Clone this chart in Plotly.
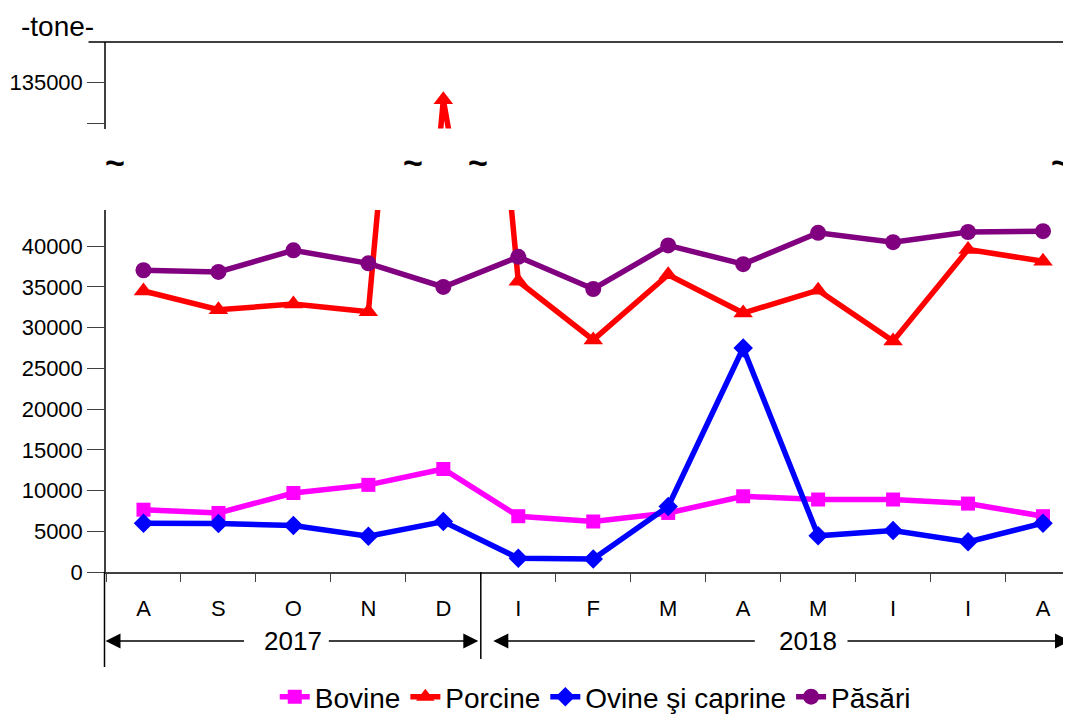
import plotly.graph_objects as go

months = ["A", "S", "O", "N", "D", "I", "F", "M", "A", "M", "I", "I", "A"]
bovine = [7650, 7250, 9700, 10700, 12650, 6850, 6200, 7250, 9300, 8900, 8900, 8400, 6850]
porcine = [34500, 32200, 32900, 31950, 132900, 35700, 28500, 36500, 31800, 34600, 28350, 39600, 38150]
ovine = [6000, 5950, 5700, 4400, 6200, 1700, 1600, 8050, 27500, 4450, 5100, 3700, 6000]
pasari = [37050, 36850, 39500, 37900, 35000, 38700, 34750, 40100, 37800, 41650, 40500, 41750, 41850]
series_names = ["Bovine", "Porcine", "Ovine şi caprine", "Păsări"]
years = ["2017", "2018"]
lower_ticks = list(range(0, 40001, 5000))
upper_ticks = [130000, 135000]
upper_ticktext = ["", "135000"]

x = list(range(len(months)))
FONT = "Liberation Sans, Arial, sans-serif"

# page body has an 8px margin; the figure is sized so it ends at the window edge
OFF = 8
W, H = 1071 - OFF, 715 - OFF
ML, MR, MT, MB = 105.5 - OFF, 0, 42 - OFF, 143
PW = W - ML - MR
PH = H - MT - MB
XR = [-0.5, -0.5 + PW / 75.0]

def px2paper_x(rx):
    return (rx - OFF - ML) / PW

def px2paper_y(ry):
    return (H - MB - (ry - OFF)) / PH

styles = [
    dict(color="#FF00FF", symbol="square", size=14),
    dict(color="#FF0000", symbol="triangle-up", size=17),
    dict(color="#0000FF", symbol="diamond", size=15),
    dict(color="#800080", symbol="circle", size=16),
]
data = [bovine, porcine, ovine, pasari]

fig = go.Figure()
for name, vals, st in zip(series_names, data, styles):
    for yax, show in (("y", True), ("y2", False)):
        fig.add_trace(go.Scatter(
            x=x, y=vals, name=name, mode="lines+markers",
            line=dict(color=st["color"], width=5.5),
            marker=dict(color=st["color"], symbol=st["symbol"], size=st["size"]),
            xaxis="x" if yax == "y" else "x2", yaxis=yax,
            showlegend=show, cliponaxis=True,
        ))

axis_common = dict(showgrid=False, zeroline=False, showline=True,
                   linecolor="#404040", linewidth=1.5,
                   ticks="outside", ticklen=17, tickwidth=1.2, tickcolor="#404040",
                   tickfont=dict(family=FONT, size=22, color="black"))

lower_top = 210
upper_bottom = 128.5

fig.update_layout(
    width=W, height=H,
    margin=dict(l=ML, r=MR, t=MT, b=MB, autoexpand=False),
    paper_bgcolor="white", plot_bgcolor="white",
    font=dict(family=FONT, size=22, color="black"),
    xaxis=dict(range=XR, domain=[0, 1], anchor="y",
               tickmode="array", tickvals=x, ticktext=months,
               ticks="", showgrid=False, zeroline=False,
               showline=True, linecolor="#404040", linewidth=2,
               ticklabelstandoff=16,
               tickfont=dict(family=FONT, size=22, color="black"),
               minor=dict(tickvals=[i - 0.5 for i in range(len(months) + 1)],
                          ticks="outside", ticklen=8, tickwidth=1.2,
                          tickcolor="#404040", showgrid=False)),
    xaxis2=dict(range=XR, domain=[0, 1], anchor="y2", matches="x", visible=False),
    yaxis=dict(domain=[0, px2paper_y(lower_top)], range=[0, 44450], anchor="x",
               tickmode="array", tickvals=lower_ticks,
               ticktext=[str(v) for v in lower_ticks], **axis_common),
    yaxis2=dict(domain=[px2paper_y(upper_bottom), 1], range=[129360, 140000], anchor="x2",
                tickmode="array", tickvals=upper_ticks, ticktext=upper_ticktext,
                **axis_common),
    legend=dict(orientation="h", x=px2paper_x(595), xanchor="center",
                y=px2paper_y(697), yanchor="middle",
                font=dict(family=FONT, size=28, color="black"),
                bgcolor="rgba(0,0,0,0)", itemwidth=30, tracegroupgap=0),
    showlegend=True,
)

shapes = [
    dict(type="line", xref="paper", yref="paper",
         x0=px2paper_x(88), x1=1, y0=1, y1=1, line=dict(color="black", width=1.5)),
    dict(type="line", xref="paper", yref="paper",
         x0=px2paper_x(104), x1=px2paper_x(104), y0=0, y1=px2paper_y(667),
         line=dict(color="black", width=1.5)),
    dict(type="line", xref="paper", yref="paper",
         x0=px2paper_x(480.5), x1=px2paper_x(480.5), y0=0, y1=px2paper_y(659),
         line=dict(color="black", width=1.5)),
]
fig.update_layout(shapes=shapes)

ann = []
arrow_y = px2paper_y(641)
for head, tail in ((105, 245), (478, 327), (493, 756), (1076, 846)):
    ann.append(dict(xref="paper", yref="paper", x=px2paper_x(head), y=arrow_y,
                    ax=tail - head, ay=0, axref="pixel", ayref="pixel",
                    text="", showarrow=True, arrowhead=2, arrowsize=2,
                    arrowwidth=1.5, arrowcolor="black"))
for yr, cx in zip(years, (292.5, 808)):
    ann.append(dict(xref="paper", yref="paper", x=px2paper_x(cx), y=arrow_y,
                    text=yr, showarrow=False, xanchor="center", yanchor="middle",
                    font=dict(family=FONT, size=26, color="black")))
for tx in (115, 413, 478, 1061):
    ann.append(dict(xref="paper", yref="paper", x=px2paper_x(tx), y=px2paper_y(162),
                    text="<b>~</b>", showarrow=False, xanchor="center", yanchor="middle",
                    font=dict(family=FONT, size=34, color="black")))
ann.append(dict(xref="paper", yref="paper", x=px2paper_x(18), y=px2paper_y(27),
                text="-tone-", showarrow=False, xanchor="left", yanchor="middle",
                font=dict(family=FONT, size=28, color="black")))
fig.update_layout(annotations=ann)

fig.write_html("out.html")
